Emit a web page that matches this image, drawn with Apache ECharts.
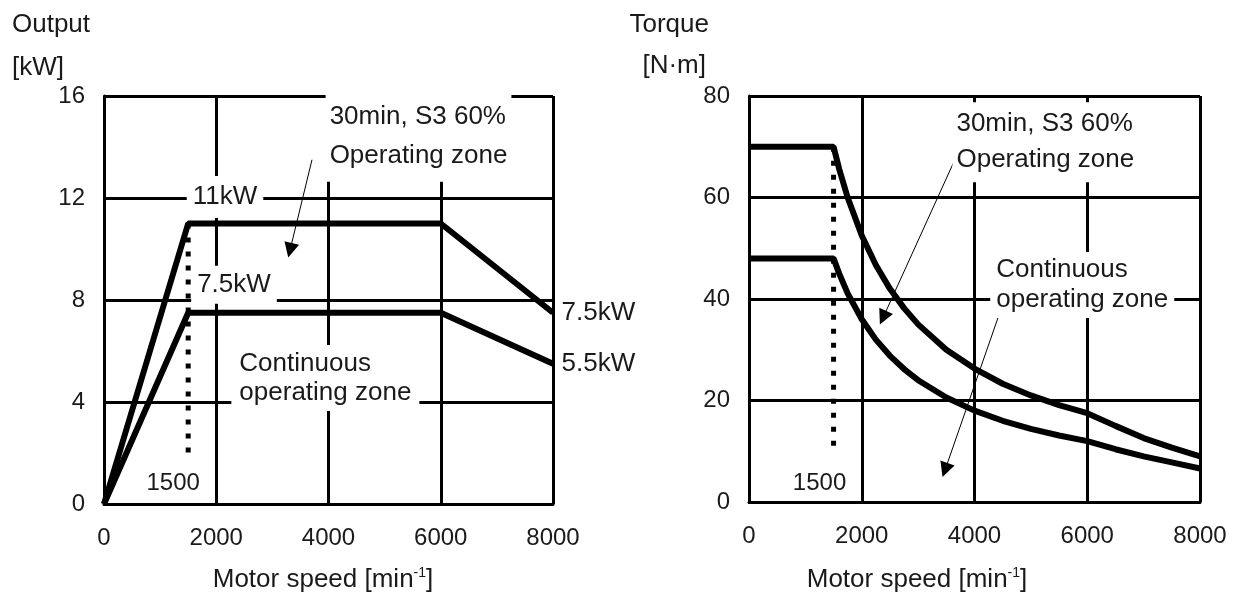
<!DOCTYPE html>
<html>
<head>
<meta charset="utf-8">
<script src="https://cdn.jsdelivr.net/npm/echarts@6/dist/echarts.min.js"></script>
<style>
  html, body { margin: 0; padding: 0; background: #fff; }
  #chart { width: 1242px; height: 593px; }
</style>
</head>
<body>
<div id="chart"></div>
<script>
// output chart [rpm, kW]
const outputS3 = [[0, 0], [1500, 11], [6000, 11], [8000, 7.5]];
const outputCont = [[0, 0], [1500, 7.5], [6000, 7.5], [8000, 5.5]];

// torque chart
const torqueSpeed = [0, 1500, 1600, 1750, 2000, 2250, 2500, 2750, 3000, 3500, 4000, 4500, 5000, 5500, 6000, 6500, 7000, 7500, 8000];
const torqueS3 = [70, 70, 65.6, 60, 52.5, 46.7, 42, 38.2, 35, 30, 26.3, 23.3, 21, 19.1, 17.5, 15, 12.6, 10.7, 9.0];
const torqueCont = [48, 48, 45, 41.1, 36, 32, 28.8, 26.2, 24, 20.6, 18, 16, 14.4, 13.1, 12, 10.4, 9, 7.8, 6.6];

// base speed marker
const baseSpeed = 1500;
const outputDots = [11, 1.7];
const torqueDots = [70, 9.6];

const FONT = '"Liberation Sans", Arial, sans-serif';
const INK = '#1a1a1a';

const chart = echarts.init(document.getElementById('chart'));

function pairs(xs, ys) {
  return xs.map((x, i) => [x, ys[i]]);
}

function note(coord, text, extra) {
  return {
    coord: coord,
    symbol: 'rect',
    symbolSize: 1,
    itemStyle: { color: 'rgba(0,0,0,0)' },
    label: Object.assign({
      show: true,
      formatter: text,
      position: 'right',
      distance: 0,
      color: INK,
      fontSize: 26,
      fontFamily: FONT,
      backgroundColor: '#fff',
      padding: [3, 5],
      lineHeight: 30
    }, extra || {})
  };
}

function arrow(from, to) {
  return [{ coord: from }, { coord: to }];
}

const xAxisBase = {
  type: 'value',
  min: 0,
  max: 8000,
  interval: 2000,
  axisLine: { show: true, lineStyle: { color: '#000', width: 3 } },
  axisTick: { show: false },
  splitLine: { show: true, lineStyle: { color: '#000', width: 3 } },
  axisLabel: { color: INK, fontSize: 24, fontFamily: FONT, margin: 22, formatter: v => String(v) }
};

function yAxisBase(max, interval) {
  return {
    type: 'value',
    min: 0,
    max: max,
    interval: interval,
    axisLine: { show: true, lineStyle: { color: '#000', width: 3 } },
    axisTick: { show: false },
    splitLine: { show: true, lineStyle: { color: '#000', width: 3 } },
    axisLabel: { color: INK, fontSize: 24, fontFamily: FONT, margin: 19 }
  };
}

const curve = { type: 'line', symbol: 'none', silent: true, lineStyle: { color: '#000', width: 6 }, z: 3 };
const dots = { type: 'line', symbol: 'none', silent: true, lineStyle: { color: '#000', width: 5, type: [5, 9], cap: 'butt' }, z: 2 };

const arrowStyle = {
  silent: true,
  symbol: ['none', 'triangle'],
  symbolSize: 15,
  itemStyle: { color: '#000' },
  lineStyle: { color: '#000', width: 1, type: 'solid' },
  label: { show: false },
  emphasis: { disabled: true }
};

function axisTitle(x, y, text, align) {
  return {
    type: 'text',
    x: x,
    y: y,
    silent: true,
    style: {
      text: text,
      fill: INK,
      font: '26px ' + FONT,
      align: align,
      verticalAlign: 'middle'
    }
  };
}

function speedTitle(x) {
  return {
    type: 'text',
    x: x,
    y: 580,
    silent: true,
    style: {
      text: 'Motor speed [min{s|-1}]',
      fill: INK,
      font: '26px ' + FONT,
      align: 'center',
      verticalAlign: 'middle',
      lineHeight: 28,
      rich: {
        s: { fontSize: 14, fontFamily: FONT, fill: INK, verticalAlign: 'top', lineHeight: 28 }
      }
    }
  };
}

const option = {
  animation: false,
  backgroundColor: '#fff',
  grid: [
    { left: 104, right: 689, top: 96, bottom: 89 },
    { left: 749, right: 42, top: 96, bottom: 91 }
  ],
  xAxis: [
    Object.assign({ gridIndex: 0 }, xAxisBase),
    Object.assign({ gridIndex: 1 }, xAxisBase)
  ],
  yAxis: [
    Object.assign({ gridIndex: 0 }, yAxisBase(16, 4)),
    Object.assign({ gridIndex: 1 }, yAxisBase(80, 20))
  ],
  graphic: [
    axisTitle(12, 25, 'Output', 'left'),
    axisTitle(12, 68, '[kW]', 'left'),
    axisTitle(709, 25, 'Torque', 'right'),
    axisTitle(706, 66, '[N·m]', 'right'),
    speedTitle(323),
    speedTitle(917)
  ],
  series: [
    Object.assign({}, curve, {
      name: '30min, S3 60%',
      xAxisIndex: 0, yAxisIndex: 0,
      data: outputS3,
      markLine: Object.assign({}, arrowStyle, {
        data: [arrow([3706, 13.5], [3314, 9.95])]
      })
    }),
    Object.assign({}, curve, {
      name: 'Continuous',
      xAxisIndex: 0, yAxisIndex: 0,
      data: outputCont
    }),
    Object.assign({}, dots, {
      xAxisIndex: 0, yAxisIndex: 0,
      data: outputDots.map(v => [baseSpeed, v]),
      markPoint: {
        silent: true,
        data: [
          note([2156, 12.04], '11kW', { position: 'inside', padding: [6, 6] }),
          note([2316, 8.6], '7.5kW', { position: 'inside', padding: [4, 6] }),
          note([3940, 14.4], '30min, S3 60%\nOperating zone', { lineHeight: 39, padding: [6, 4] }),
          note([2260, 4.94], 'Continuous\noperating zone', { lineHeight: 29, padding: [4, 8] }),
          note([8000, 7.5], '7.5kW', { distance: 8, backgroundColor: 'transparent', padding: 0 }),
          note([8000, 5.5], '5.5kW', { distance: 8, backgroundColor: 'transparent', padding: 0 }),
          note([baseSpeed, 0.82], '1500', { position: 'inside', offset: [-15, 0], fontSize: 24, padding: 0, backgroundColor: 'transparent' })
        ]
      }
    }),
    Object.assign({}, curve, {
      name: '30min, S3 60% torque',
      xAxisIndex: 1, yAxisIndex: 1,
      data: pairs(torqueSpeed, torqueS3),
      markLine: Object.assign({}, arrowStyle, {
        data: [
          arrow([3707, 68.8], [2377, 36.3]),
          arrow([4417, 36.3], [3477, 6.3])
        ]
      })
    }),
    Object.assign({}, curve, {
      name: 'Continuous torque',
      xAxisIndex: 1, yAxisIndex: 1,
      data: pairs(torqueSpeed, torqueCont)
    }),
    Object.assign({}, dots, {
      xAxisIndex: 1, yAxisIndex: 1,
      data: torqueDots.map(v => [baseSpeed, v]),
      markPoint: {
        silent: true,
        data: [
          note([3600, 70.9], '30min, S3 60%\nOperating zone', { lineHeight: 36, padding: [4, 4] }),
          note([4270, 42.76], 'Continuous\noperating zone', { lineHeight: 30, padding: [3, 6] }),
          note([baseSpeed, 3.74], '1500', { position: 'inside', offset: [-14, 0], fontSize: 24, padding: 0, backgroundColor: 'transparent' })
        ]
      }
    })
  ]
};

chart.setOption(option);
</script>
</body>
</html>
